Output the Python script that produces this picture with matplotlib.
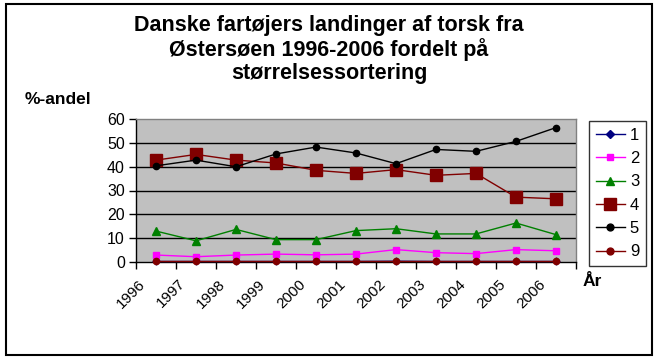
import matplotlib
matplotlib.use("Agg")
import matplotlib.pyplot as plt
from matplotlib.patches import Rectangle
from matplotlib.transforms import ScaledTranslation

years = ["1996", "1997", "1998", "1999", "2000", "2001", "2002", "2003", "2004", "2005", "2006"]
s1 = [0.1, 0.1, 0.1, 0.1, 0.1, 0.1, 0.2, 0.1, 0.1, 0.1, 0.1]
s2 = [2.8, 2.1, 2.8, 3.2, 2.9, 3.2, 5.1, 3.8, 3.4, 5.1, 4.6]
s3 = [12.9, 8.8, 13.6, 9.3, 9.3, 13.1, 13.9, 11.7, 11.7, 16.3, 11.4]
s4 = [42.8, 45.2, 42.8, 41.6, 38.5, 37.2, 38.8, 36.4, 37.2, 27.2, 26.5]
s5 = [40.4, 42.8, 40.0, 45.4, 48.3, 45.8, 41.3, 47.3, 46.5, 50.7, 56.5]
s9 = [0.3, 0.3, 0.3, 0.3, 0.3, 0.3, 0.3, 0.3, 0.3, 0.3, 0.3]
labels = ["1", "2", "3", "4", "5", "9"]
yticks = [0, 10, 20, 30, 40, 50, 60]

plt.rcParams["font.family"] = ["Liberation Sans", "DejaVu Sans"]

W, H = 659, 361
fig = plt.figure(figsize=(W / 100, H / 100), dpi=100)
fig.patch.set_facecolor("white")

def fx(px):
    return px / W

def fy(py):
    return 1 - py / H

L, R, T, B = 136, 576, 119.3, 261.7
ax = fig.add_axes([fx(L), fy(B), fx(R - L), (B - T) / H])
ax.set_facecolor("#C0C0C0")

x = list(range(len(years)))
series = [s1, s2, s3, s4, s5, s9]
styles = [
    dict(color="#000080", marker="D", markersize=3.5),
    dict(color="#FF00FF", marker="s", markersize=4.5),
    dict(color="#008000", marker="^", markersize=5.5),
    dict(color="#800000", marker="s", markersize=8),
    dict(color="#000000", marker="o", markersize=4.5),
    dict(color="#800000", marker="o", markersize=4.5),
]
handles = []
for s, st, lab in zip(series, styles, labels):
    h, = ax.plot(x, s, lw=1, label=lab, clip_on=False, zorder=3, **st)
    handles.append(h)

ax.set_xlim(-0.5, len(years) - 0.5)
ax.set_ylim(0, 60)
ax.set_yticks(yticks)
ax.set_yticklabels([str(v) for v in yticks], fontsize=11.5)
for v in yticks[1:-1]:
    ax.axhline(v, color="black", lw=1, zorder=1)

ax.set_xticks([i - 0.5 for i in range(len(years) + 1)])
ax.set_xticklabels([])
ax.tick_params(axis="x", direction="out", length=5, width=1, color="black")
ax.tick_params(axis="y", direction="out", length=5, width=1, color="black", pad=3)

for sp in ["top", "right"]:
    ax.spines[sp].set_color("#808080")
    ax.spines[sp].set_linewidth(1)
for sp in ["left", "bottom"]:
    ax.spines[sp].set_color("black")
    ax.spines[sp].set_linewidth(1)

off = ScaledTranslation(-0.13, -0.2, fig.dpi_scale_trans)
for i, yr in enumerate(years):
    ax.text(i, 0, yr, rotation=45, rotation_mode="anchor", ha="right", va="center",
            fontsize=11, transform=ax.get_xaxis_transform() + off)

fig.text(fx(329), fy(15), "Danske fartøjers landinger af torsk fra\nØstersøen 1996-2006 fordelt på\nstørrelsessortering",
         ha="center", va="top", fontsize=15.5, fontweight="bold", linespacing=1.12)
fig.text(fx(25), fy(100), "%-andel", ha="left", va="center", fontsize=12.5, fontweight="bold")
fig.text(fx(583), fy(281), "År", ha="left", va="center", fontsize=12.5, fontweight="bold")

leg = fig.legend(handles=handles, labels=labels, loc="upper left",
                 bbox_to_anchor=(fx(589), fy(121)), frameon=True, fancybox=False,
                 fontsize=12, handlelength=1.75, labelspacing=0.5, borderpad=0.4,
                 handletextpad=0.3, borderaxespad=0, markerscale=1.1)
leg.get_frame().set_edgecolor("black")
leg.get_frame().set_linewidth(1)

fig.patches.append(Rectangle((fx(6), fy(355)), fx(652 - 6), (355 - 4) / H, transform=fig.transFigure,
                             fill=False, edgecolor="black", lw=1.5))

fig.savefig("out.png", dpi=100)
